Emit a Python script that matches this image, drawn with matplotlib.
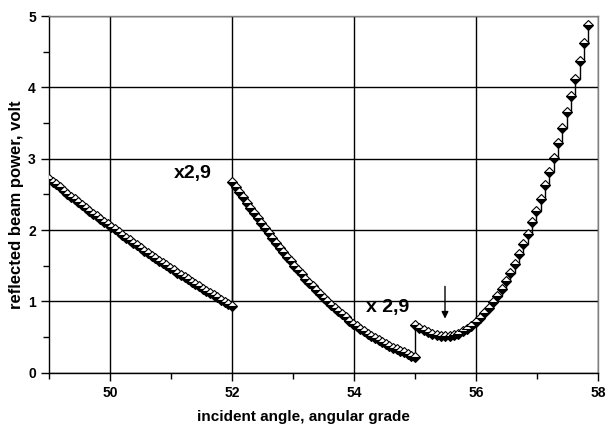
import matplotlib.pyplot as plt
from matplotlib.ticker import MultipleLocator

plt.rcParams['font.family'] = ['Liberation Sans', 'DejaVu Sans']

# first scan (49 - 52)
x1 = [49.00, 49.06, 49.12, 49.18, 49.24, 49.30, 49.36, 49.42, 49.48, 49.54,
      49.60, 49.66, 49.72, 49.78, 49.84, 49.90, 49.96, 50.02, 50.08, 50.14,
      50.20, 50.26, 50.32, 50.38, 50.44, 50.50, 50.56, 50.62, 50.68, 50.74,
      50.80, 50.86, 50.92, 50.98, 51.04, 51.10, 51.16, 51.22, 51.28, 51.34,
      51.40, 51.46, 51.52, 51.58, 51.64, 51.70, 51.76, 51.82, 51.88, 51.94, 52.00]
y1 = [2.72, 2.68, 2.64, 2.60, 2.55, 2.51, 2.47, 2.43, 2.39, 2.35,
      2.31, 2.27, 2.23, 2.20, 2.16, 2.12, 2.08, 2.04, 2.01, 1.97,
      1.93, 1.89, 1.86, 1.82, 1.79, 1.75, 1.71, 1.68, 1.64, 1.61,
      1.57, 1.54, 1.51, 1.47, 1.44, 1.40, 1.37, 1.34, 1.31, 1.27,
      1.24, 1.21, 1.18, 1.15, 1.12, 1.09, 1.06, 1.02, 0.99, 0.97, 0.93]

# second scan (52 - 55), gain x2,9
x2 = [52.00, 52.06, 52.12, 52.18, 52.24, 52.30, 52.36, 52.42, 52.48, 52.54,
      52.60, 52.66, 52.72, 52.78, 52.84, 52.90, 52.96, 53.02, 53.08, 53.14,
      53.20, 53.26, 53.32, 53.38, 53.44, 53.50, 53.56, 53.62, 53.68, 53.74,
      53.80, 53.86, 53.92, 53.98, 54.04, 54.10, 54.16, 54.22, 54.28, 54.34,
      54.40, 54.46, 54.52, 54.58, 54.64, 54.70, 54.76, 54.82, 54.88, 54.94, 55.00]
y2 = [2.68, 2.60, 2.53, 2.46, 2.38, 2.31, 2.24, 2.17, 2.10, 2.03,
      1.96, 1.89, 1.82, 1.75, 1.69, 1.62, 1.56, 1.50, 1.44, 1.38,
      1.32, 1.26, 1.21, 1.16, 1.10, 1.05, 1.00, 0.95, 0.91, 0.86,
      0.82, 0.78, 0.73, 0.69, 0.66, 0.62, 0.58, 0.55, 0.52, 0.49,
      0.46, 0.43, 0.40, 0.38, 0.35, 0.33, 0.31, 0.29, 0.26, 0.24, 0.22]

# third scan (55 - 58), gain x2,9
x3 = [55.000, 55.071, 55.142, 55.213, 55.284, 55.355, 55.426, 55.497, 55.568, 55.639,
      55.710, 55.781, 55.852, 55.923, 55.994, 56.065, 56.136, 56.207, 56.278, 56.349,
      56.420, 56.491, 56.562, 56.633, 56.704, 56.775, 56.846, 56.917, 56.988, 57.059,
      57.130, 57.201, 57.272, 57.343, 57.414, 57.485, 57.556, 57.627, 57.698, 57.769, 57.840]
y3 = [0.67, 0.63, 0.60, 0.57, 0.55, 0.53, 0.52, 0.51, 0.52, 0.53,
      0.55, 0.58, 0.62, 0.66, 0.71, 0.77, 0.84, 0.91, 0.99, 1.08,
      1.18, 1.29, 1.40, 1.53, 1.66, 1.80, 1.95, 2.11, 2.27, 2.44,
      2.63, 2.82, 3.01, 3.22, 3.43, 3.65, 3.88, 4.12, 4.37, 4.62, 4.88]

x = x1 + x2 + x3
y = y1 + y2 + y3

fig = plt.figure(figsize=(6.06, 4.33), dpi=100)
ax = fig.add_axes([0.081, 0.139, 0.906, 0.824])

ax.plot(x, y, color='black', lw=1, drawstyle='steps-post', zorder=3)
ax.plot(x, y, ls='none', marker='D', markersize=5, fillstyle='bottom',
        markerfacecolor='black', markerfacecoloralt='white',
        markeredgecolor='black', markeredgewidth=0.8, zorder=4)

ax.set_xlim(49, 58)
ax.set_ylim(0, 5)
ax.xaxis.set_major_locator(MultipleLocator(2))
ax.xaxis.set_minor_locator(MultipleLocator(1))
ax.yaxis.set_major_locator(MultipleLocator(1))
ax.yaxis.set_minor_locator(MultipleLocator(0.5))
ax.tick_params(which='major', direction='out', length=6, width=1, labelsize=10)
ax.tick_params(which='minor', direction='out', length=4, width=1)
for lab in ax.get_xticklabels() + ax.get_yticklabels():
    lab.set_fontweight('bold')

ax.grid(True, which='major', color='black', lw=1)
ax.spines['left'].set_linewidth(1)
ax.spines['bottom'].set_linewidth(1)
for s in ['top', 'right']:
    ax.spines[s].set_color('grey')
    ax.spines[s].set_linewidth(1)

ax.set_xlabel('incident angle, angular grade', fontsize=11, fontweight='bold')
ax.set_ylabel('reflected beam power, volt', fontsize=12, fontweight='bold')
ax.xaxis.set_label_coords(0.463, -0.103)
ax.yaxis.set_label_coords(-0.045, 0.47)

ax.text(51.05, 2.80, 'x2,9', fontsize=14, fontweight='bold', va='center', ha='left')
ax.text(54.2, 0.91, 'x 2,9', fontsize=14, fontweight='bold', va='center', ha='left')
ax.annotate('', xy=(55.49, 0.72), xytext=(55.49, 1.25),
            arrowprops=dict(arrowstyle='-|>', color='black', lw=1, mutation_scale=10))

plt.savefig('out.png', dpi=100)
